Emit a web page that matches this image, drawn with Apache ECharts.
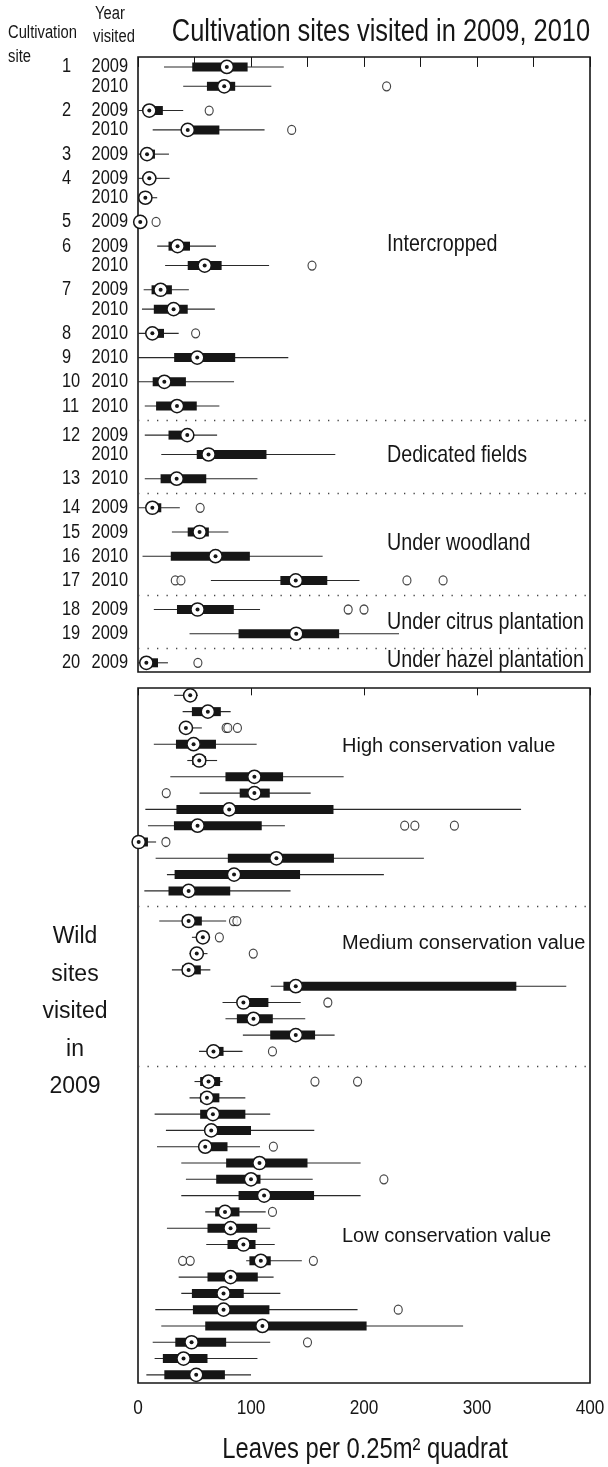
<!DOCTYPE html>
<html><head><meta charset="utf-8">
<script src="https://cdn.jsdelivr.net/npm/echarts/dist/echarts.min.js"></script>
<style>html,body{margin:0;padding:0;background:#fff}#c{width:608px;height:1467px}</style>
</head><body><div id="c"></div>
<script>
// ---------- Cultivation sites (top panel) ----------
const cultSites  = [1,1,2,2,3,4,4,5,6,6,7,7,8,9,10,11,12,12,13,14,15,16,17,18,19,20];
const cultYears  = [2009,2010,2009,2010,2009,2009,2010,2009,2009,2010,2009,2010,2010,2010,2010,2010,2009,2010,2010,2009,2009,2010,2010,2009,2009,2009];
const cultGroups = ['I','I','I','I','I','I','I','I','I','I','I','I','I','I','I','I','D','D','D','W','W','W','W','C','C','H'];
const cultWhiskerLow  = [23,40,0,13,0,0,0,0,17,24,5,3.5,0,0,0,6,6,20.6,6,0,30,4,64.5,14,45.6,0];
const cultQ1          = [48,61,6,44,6,7,4,0,27,44,12,14,8,32,13,16,27,52,20,8,44,29,126,34.5,89,5];
const cultMedian      = [78.6,76.3,10,44,8,10,6.5,2,35,59,20,31.5,12.7,52.4,23.3,34.5,43.6,62.4,34.2,12.7,54.5,68.6,139.6,52.7,140,7.4];
const cultQ3          = [97,86,22,72,15,13,9,3,46,74,30,44,23,86,42.4,52,43,113.7,60.4,20.6,62.7,99,167.5,84.8,178,17.7];
const cultWhiskerHigh = [129,118,40,112,27.4,28,17,4,69,116,45,68,36,133,85,72,70,174.6,105.7,37,80,163.4,196,108,231,26.5];
const cultOutlierRow  = [1,2,3,7,9,12,19,22,22,22,22,23,23,25];
const cultOutlierVal  = [220,63,136,16,154,51,55,33,38,238,270,186,200,53];
const cultGroupNames  = ['Intercropped','Dedicated fields','Under woodland','Under citrus plantation','Under hazel plantation'];

// ---------- Wild sites (bottom panel) ----------
const wildGroups = ['High','High','High','High','High','High','High','High','High','High','High','High','High',
  'Medium','Medium','Medium','Medium','Medium','Medium','Medium','Medium','Medium',
  'Low','Low','Low','Low','Low','Low','Low','Low','Low','Low','Low','Low','Low','Low','Low','Low','Low','Low','Low'];
const wildWhiskerLow  = [32,39.5,37,14,43.6,28.6,54.5,6.5,8.8,0,15.6,25.6,5.6, 18.8,47.7,45.6,30,117.5,74.8,77.4,92.8,54, 50,45.6,14.7,24.7,16.8,38.3,42.4,38.3,59.5,25.6,60.4,95.7,36,38.3,15.3,20.6,13,14.7,7.4];
const wildQ1          = [42,47.7,38,33.6,48,77.4,90,34,31.8,0,79.5,32.4,27, 38.9,52,49,39,128.7,93.3,87.5,117,64, 55,55,55,59.5,55,78,69.2,89,68.3,61.5,79.2,98.6,61.5,47.7,48.6,59.5,33,22,23.3];
const wildMedian      = [46.2,61.8,42.4,49.2,54.2,103,103,80.7,52.7,0.6,122.5,85,44.8, 44.8,57.4,52,44.8,139.6,93.3,102.2,139.6,66.8, 62.4,61,66.3,64.8,59.5,107.5,100,111.6,77,81.9,93.3,108.7,81.9,75.7,75.7,110.1,47.4,40.3,51.5];
const wildQ3          = [50,73.3,46,69,60,128.4,116.6,173,109.5,8.8,173.4,143.4,81.6, 56.5,60,55,55.6,334.8,115.4,119.3,156.7,75.7, 72.7,72,95,100,79.2,150,108.4,155.8,89.8,105.4,104,117.5,106,93.6,116.3,202.3,78,61.5,76.9];
const wildWhiskerHigh = [53,82,56.5,105,70,182,152.8,339,130,16,253,217.6,135, 78,60.4,61.5,64,379,144,148,174,92.5, 74.8,95,117,156,108,197,154.6,197,113,117,121,145,120,126,194.3,287.7,117,105.7,100];
const wildOutlierRow  = [2,2,2,6,8,8,8,9,13,13,14,15,18,21,22,22,26,28,30,33,33,33,36,38];
const wildOutlierVal  = [78,79.5,88,25,236,245,280,24.7,84.5,87.5,72,102,168,119,156.6,194.3,119.8,217.6,119,39.5,46.2,155.2,230.3,150];
const wildGroupNames  = ['High conservation value','Medium conservation value','Low conservation value'];

const xTickLabels = [0,100,200,300,400];

// ---------- layout of rows (derived from structure) ----------
function cultPositions(){
  const pos=[]; let p=0;
  for(let i=0;i<cultSites.length;i++){
    if(i>0){
      if(cultGroups[i]!==cultGroups[i-1]) p+=1.2;
      else if(cultSites[i]!==cultSites[i-1]) p+=1.0;
      else p+=0.8;
    }
    pos.push(p);
  }
  return pos;
}
function wildPositions(){
  const pos=[]; let p=0;
  for(let i=0;i<wildGroups.length;i++){
    if(i>0) p += (wildGroups[i]!==wildGroups[i-1]) ? 1.85 : 1.0;
    pos.push(p);
  }
  return pos;
}
function separators(groups,pos){
  const s=[];
  for(let i=1;i<groups.length;i++) if(groups[i]!==groups[i-1]) s.push((pos[i]+pos[i-1])/2);
  return s;
}
const cPos = cultPositions();
const wPos = wildPositions();

const FONT = "'Liberation Sans',Arial,Helvetica,sans-serif";
const NARROW_SCALE = 0.82;
const INK = '#161616';

function txt(x, y, text, size, align, narrow, extra){
  const style = Object.assign({text:text, fontSize:size, fontFamily:FONT, fill:INK,
    align:align, textAlign:align, verticalAlign:'middle', textVerticalAlign:'middle'}, extra||{});
  return {type:'text', x:x, y:y, scaleX: narrow ? NARROW_SCALE : 1, style:style};
}

function boxChildren(api){
  const y = api.value(0);
  const wlo = api.coord([api.value(1), y]);
  const q1 = api.coord([api.value(2), y]);
  const md = api.coord([api.value(3), y]);
  const q3 = api.coord([api.value(4), y]);
  const whi = api.coord([api.value(5), y]);
  return [
    {type:'line', shape:{x1:wlo[0],y1:wlo[1],x2:whi[0],y2:whi[1]}, style:{stroke:'#2a2a2a',lineWidth:1.1}},
    {type:'rect', shape:{x:q1[0],y:q1[1]-4.5,width:Math.max(q3[0]-q1[0],0),height:9}, style:{fill:INK}},
    {type:'circle', shape:{cx:md[0],cy:md[1],r:6.6}, style:{fill:'#fff',stroke:INK,lineWidth:1.5}},
    {type:'circle', shape:{cx:md[0],cy:md[1],r:2}, style:{fill:INK}}
  ];
}

function renderCult(params, api){
  const i = params.dataIndex;
  const ch = boxChildren(api);
  const base = api.coord([0, api.value(0)]);
  ch.push(txt(base[0]-10, base[1], String(cultYears[i]), 20, 'right', true));
  if(i===0 || cultSites[i]!==cultSites[i-1]){
    ch.push(txt(base[0]-76, base[1], String(cultSites[i]), 20, 'left', true));
  }
  return {type:'group', children:ch};
}
function renderWild(params, api){
  return {type:'group', children:boxChildren(api)};
}

const cultData = cPos.map((p,i)=>[p,cultWhiskerLow[i],cultQ1[i],cultMedian[i],cultQ3[i],cultWhiskerHigh[i]]);
const wildData = wPos.map((p,i)=>[p,wildWhiskerLow[i],wildQ1[i],wildMedian[i],wildQ3[i],wildWhiskerHigh[i]]);
const cultOut = cultOutlierRow.map((r,k)=>[cultOutlierVal[k], cPos[r]]);
const wildOut = wildOutlierRow.map((r,k)=>[wildOutlierVal[k], wPos[r]]);

const sepLine = {symbol:['none','none'], silent:true, label:{show:false},
  lineStyle:{color:'#444', type:[1.3,8.2], width:1.3}, emphasis:{disabled:true}};

function xAx(grid, pos, interval){
  return {type:'value', gridIndex:grid, position:pos, min:0, max:400, interval:interval,
    axisLine:{show:false}, splitLine:{show:false},
    axisTick:{show:true, inside:true, length:6, lineStyle:{color:INK, width:1}},
    axisLabel:{show:false}};
}

const chart = echarts.init(document.getElementById('c'), null, {renderer:'canvas'});
chart.setOption({
  animation:false,
  backgroundColor:'#fff',
  grid:[
    {left:138, top:57, width:452, height:615, show:true, borderColor:INK, borderWidth:1.6, backgroundColor:'transparent'},
    {left:138, top:688, width:452, height:695, show:true, borderColor:INK, borderWidth:1.6, backgroundColor:'transparent'}
  ],
  xAxis:[ xAx(0,'bottom',50), xAx(0,'top',50), xAx(1,'bottom',100), xAx(1,'top',100) ],
  yAxis:[
    {type:'value', gridIndex:0, inverse:true, min:-0.41, max:24.98, show:false},
    {type:'value', gridIndex:1, inverse:true, min:-0.45, max:42.2, show:false}
  ],
  series:[
    {type:'custom', xAxisIndex:0, yAxisIndex:0, data:cultData, renderItem:renderCult, encode:{x:[1,2,3,4,5], y:0}, clip:false,
      markLine:Object.assign({data:separators(cultGroups,cPos).map(v=>({yAxis:v}))}, sepLine), z:3},
    {type:'scatter', xAxisIndex:0, yAxisIndex:0, data:cultOut, symbol:'circle', symbolSize:[8,9],
      itemStyle:{color:'#fff', borderColor:INK, borderWidth:1.2}, z:2},
    {type:'custom', xAxisIndex:2, yAxisIndex:1, data:wildData, renderItem:renderWild, encode:{x:[1,2,3,4,5], y:0}, clip:false,
      markLine:Object.assign({data:separators(wildGroups,wPos).map(v=>({yAxis:v}))}, sepLine), z:3},
    {type:'scatter', xAxisIndex:2, yAxisIndex:1, data:wildOut, symbol:'circle', symbolSize:[8,9],
      itemStyle:{color:'#fff', borderColor:INK, borderWidth:1.2}, z:2}
  ]
});

// tick labels of the bottom axis, placed through the axis scale
const gridBottom = chart.convertToPixel({yAxisIndex:1}, 42.2);
const tickLabels = xTickLabels.map(v => txt(chart.convertToPixel({xAxisIndex:2}, v), gridBottom + 25, String(v), 21, 'center', true));

chart.setOption({
  graphic: tickLabels.concat([
    txt(381, 32, 'Cultivation sites visited in 2009, 2010', 31, 'center', true),
    txt(8, 33, 'Cultivation', 18, 'left', true),
    txt(8, 57, 'site', 18, 'left', true),
    txt(95, 14, 'Year', 18, 'left', true),
    txt(93, 37, 'visited', 18, 'left', true),
    txt(387, 244, cultGroupNames[0], 24, 'left', true),
    txt(387, 455, cultGroupNames[1], 24, 'left', true),
    txt(387, 543, cultGroupNames[2], 24, 'left', true),
    txt(387, 622, cultGroupNames[3], 24, 'left', true),
    txt(387, 660, cultGroupNames[4], 24, 'left', true),
    txt(342, 746, wildGroupNames[0], 20, 'left', false),
    txt(342, 943, wildGroupNames[1], 20, 'left', false),
    txt(342, 1236, wildGroupNames[2], 20, 'left', false),
    txt(75, 1012, 'Wild\nsites\nvisited\nin\n2009', 23, 'center', false, {lineHeight:37.5}),
    txt(365, 1450, 'Leaves per 0.25m² quadrat', 29, 'center', true)
  ])
});
</script>
</body></html>
